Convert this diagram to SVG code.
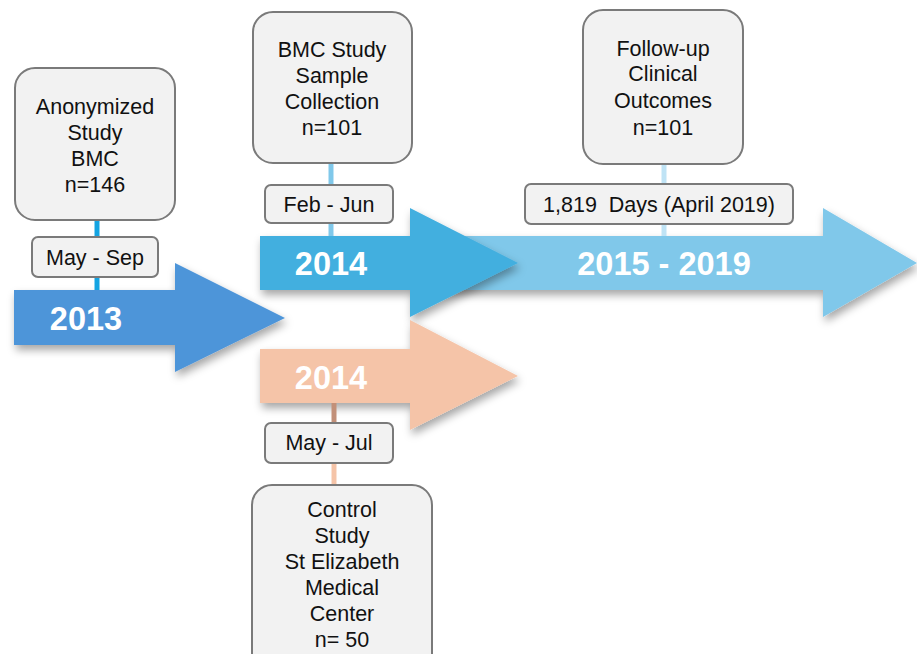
<svg xmlns="http://www.w3.org/2000/svg" width="917" height="654" viewBox="0 0 917 654">
<defs>
<filter id="sh" x="-10%" y="-20%" width="130%" height="160%">
<feDropShadow dx="2" dy="5" stdDeviation="4" flood-color="#000" flood-opacity="0.35"/>
</filter>
<style>
.box{fill:#f2f2f2;stroke:#7a7a7a;stroke-width:2}
.t{font-family:"Liberation Sans",Arial,sans-serif;font-size:21.5px;fill:#111;text-anchor:middle}
.yr{font-family:"Liberation Sans",Arial,sans-serif;font-size:32.5px;font-weight:bold;fill:#fff;text-anchor:middle}
.c{stroke-width:5;fill:none}
</style>
</defs>
<rect width="917" height="654" fill="#fff"/>
<g id="arrow-2015-2019" filter="url(#sh)">
<polygon points="420,236 823,236 823,208 917,263 823,317 823,290 420,290" fill="#80c8ea"/>
</g>
<g id="arrow-2014-blue" filter="url(#sh)">
<polygon points="260,236 410,236 410,208 518,263 410,317 410,290 260,290" fill="#43afdf"/>
</g>
<g id="arrow-2014-peach" filter="url(#sh)">
<polygon points="260,349 410,349 410,320 518,376 410,430 410,403 260,403" fill="#f5c4a8"/>
</g>
<g id="arrow-2013" filter="url(#sh)">
<polygon points="14,290 175,290 175,263 285,318 175,372 175,345 14,345" fill="#4e95d9"/>
</g>
<g id="connectors">
<line class="c" x1="97" y1="220" x2="97" y2="290" stroke="#14a4e2"/>
<line class="c" x1="331" y1="163" x2="331" y2="236" stroke="#80c8ea"/>
<line class="c" x1="664" y1="164" x2="664" y2="236" stroke="#bfe3f5"/>
<line class="c" x1="334" y1="403" x2="334" y2="423" stroke="#c29079"/>
<line class="c" x1="334" y1="463" x2="334" y2="485" stroke="#f5c4a8"/>
</g>
<text class="yr" x="86" y="330">2013</text>
<text class="yr" x="331" y="275">2014</text>
<text class="yr" x="664" y="275">2015 - 2019</text>
<text class="yr" x="331" y="389">2014</text>
<g id="node-anonymized">
<rect class="box" x="15" y="68" width="160" height="152" rx="20"/>
<text class="t" x="95" y="114">Anonymized</text>
<text class="t" x="95" y="140">Study</text>
<text class="t" x="95" y="166">BMC</text>
<text class="t" x="95" y="192">n=146</text>
</g>
<g id="node-may-sep">
<rect class="box" x="32" y="237" width="126" height="40" rx="6"/>
<text class="t" x="95" y="265">May - Sep</text>
</g>
<g id="node-bmc">
<rect class="box" x="253" y="12" width="159" height="151" rx="20"/>
<text class="t" x="332" y="57">BMC Study</text>
<text class="t" x="332" y="83">Sample</text>
<text class="t" x="332" y="109">Collection</text>
<text class="t" x="332" y="135">n=101</text>
</g>
<g id="node-feb-jun">
<rect class="box" x="265" y="185" width="128" height="38" rx="6"/>
<text class="t" x="329" y="212">Feb - Jun</text>
</g>
<g id="node-followup">
<rect class="box" x="583" y="10" width="160" height="154" rx="20"/>
<text class="t" x="663" y="56">Follow-up</text>
<text class="t" x="663" y="81">Clinical</text>
<text class="t" x="663" y="108">Outcomes</text>
<text class="t" x="663" y="135">n=101</text>
</g>
<g id="node-days">
<rect class="box" x="525" y="184" width="268" height="40" rx="6"/>
<text class="t" x="659" y="212" xml:space="preserve" style="white-space:pre">1,819  Days (April 2019)</text>
</g>
<g id="node-may-jul">
<rect class="box" x="265" y="423" width="128" height="40" rx="6"/>
<text class="t" x="329" y="450">May - Jul</text>
</g>
<g id="node-control">
<rect class="box" x="252" y="485" width="180" height="200" rx="20"/>
<text class="t" x="342" y="517">Control</text>
<text class="t" x="342" y="543">Study</text>
<text class="t" x="342" y="569">St Elizabeth</text>
<text class="t" x="342" y="595">Medical</text>
<text class="t" x="342" y="621">Center</text>
<text class="t" x="342" y="647">n= 50</text>
</g>
</svg>
